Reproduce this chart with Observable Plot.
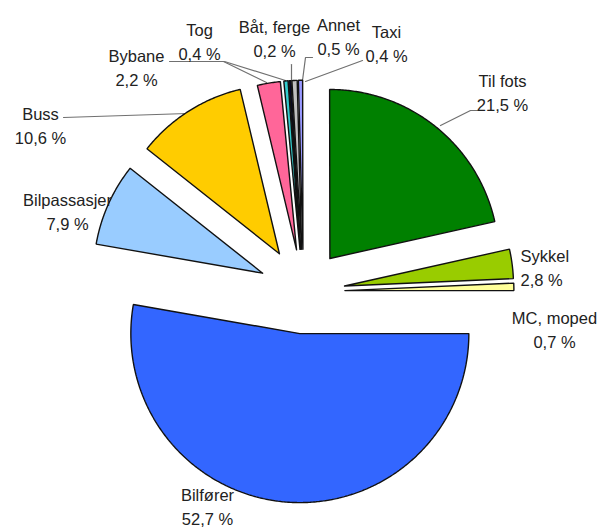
<!DOCTYPE html>
<html>
<head>
<meta charset="utf-8">
<script src="https://cdn.jsdelivr.net/npm/d3@7"></script>
<script src="https://cdn.jsdelivr.net/npm/@observablehq/plot@0.6"></script>
<style>
  html, body { margin: 0; padding: 0; background: #fff; }
  #chart svg { display: block; }
</style>
</head>
<body>
<div id="chart"></div>
<script>
// ---- data ----
const categories = ["Bilfører", "Bilpassasjer", "Buss", "Bybane", "Tog", "Båt, ferge", "Annet", "Taxi", "Til fots", "Sykkel", "MC, moped"];
const shares = [52.7, 7.9, 10.6, 2.2, 0.4, 0.2, 0.5, 0.4, 21.5, 2.8, 0.7];

// ---- styles ----
const colors = ["#3366ff", "#99ccff", "#ffcc00", "#ff6699", "#33cccc", "#000033", "#bfbfbf", "#9999ff", "#008000", "#99cc00", "#ffff99"];
const explode = [0.25, 0.265, 0.265, 0.25, 0.25, 0.25, 0.25, 0.25, 0.25, 0.245, 0.245];

// layout helpers: pixel <-> unit-radius space (1 unit = 169 px, pie centre at 303,291)
const R = 169, CX = 303, CY = 291;
const ux = px => (px - CX) / R;
const uy = py => (CY - py) / R;

// label layout (pixel positions of text block centres)
const labelPos = {
  "Bilfører": [207, 505, "middle"],
  "Bilpassasjer": [67, 210, "middle"],
  "Buss": [40, 124, "middle"],
  "Bybane": [136, 66, "middle"],
  "Tog": [199, 40, "middle"],
  "Båt, ferge": [274, 37, "middle"],
  "Annet": [338, 35, "middle"],
  "Taxi": [386, 42, "middle"],
  "Til fots": [502, 91, "middle"],
  "Sykkel": [520, 266, "start"],
  "MC, moped": [554, 328, "middle"]
};
// leader lines (pixel)
const leaders = [
  {name: "Til fots", pts: [[477, 110], [470, 110], [440, 125]]},
  {name: "Buss", pts: [[63, 117], [187, 113]]},
  {name: "Bybane", pts: [[169, 61], [223, 61], [266, 82]]},
  {name: "Tog", pts: [[224, 61], [285, 80]]},
  {name: "Båt, ferge", pts: [[291, 64], [291, 80]]},
  {name: "Annet", pts: [[312, 57], [305, 57], [302, 80]]},
  {name: "Taxi", pts: [[362, 60], [305, 81]]}
];

// ---- pie geometry (angles clockwise from 3 o'clock) ----
const total = d3.sum(shares);
let cum = 0;
const slices = categories.map((name, i) => {
  const a0 = cum / total * 2 * Math.PI;
  cum += shares[i];
  const a1 = cum / total * 2 * Math.PI;
  const mid = (a0 + a1) / 2;
  const ox = explode[i] * Math.cos(mid), oy = -explode[i] * Math.sin(mid);
  const pts = [{x: ox, y: oy}];
  const n = Math.max(2, Math.ceil((a1 - a0) / (Math.PI / 360)));
  for (let k = 0; k <= n; k++) {
    const a = a0 + (a1 - a0) * k / n;
    pts.push({x: ox + Math.cos(a), y: oy - Math.sin(a)});
  }
  pts.push({x: ox, y: oy});
  return {name, color: colors[i], pts};
});

const fmt = v => d3.format(".1f")(v).replace(".", ",") + " %";
const labels = categories.map((name, i) => {
  const [px, py, anchor] = labelPos[name];
  return {name, x: ux(px), y: uy(py), anchor, text: name + "\n" + fmt(shares[i])};
});

const leaderMarks = leaders.map(l =>
  Plot.line(l.pts.map(([px, py]) => ({x: ux(px), y: uy(py)})), {x: "x", y: "y", stroke: "#707070", strokeWidth: 1.2})
);
const sliceMarks = slices.map(s =>
  Plot.line(s.pts, {x: "x", y: "y", fill: s.color, stroke: "#111", strokeWidth: 1.4, strokeLinejoin: "miter", curve: "linear"})
);

const textOpts = {x: "x", y: "y", text: "text", fontSize: 16.5, lineHeight: 1.42, lineAnchor: "middle", fill: "#222", fontFamily: "Liberation Sans, Arial, sans-serif"};

const chart = Plot.plot({
  width: 598,
  height: 528,
  margin: 0,
  x: {domain: [ux(0), ux(598)], axis: null},
  y: {domain: [uy(528), uy(0)], axis: null},
  marks: [
    ...leaderMarks,
    ...sliceMarks,
    Plot.text(labels.filter(d => d.anchor === "middle"), {...textOpts, textAnchor: "middle"}),
    Plot.text(labels.filter(d => d.anchor === "start"), {...textOpts, textAnchor: "start"})
  ]
});
document.getElementById("chart").appendChild(chart);
</script>
</body>
</html>
